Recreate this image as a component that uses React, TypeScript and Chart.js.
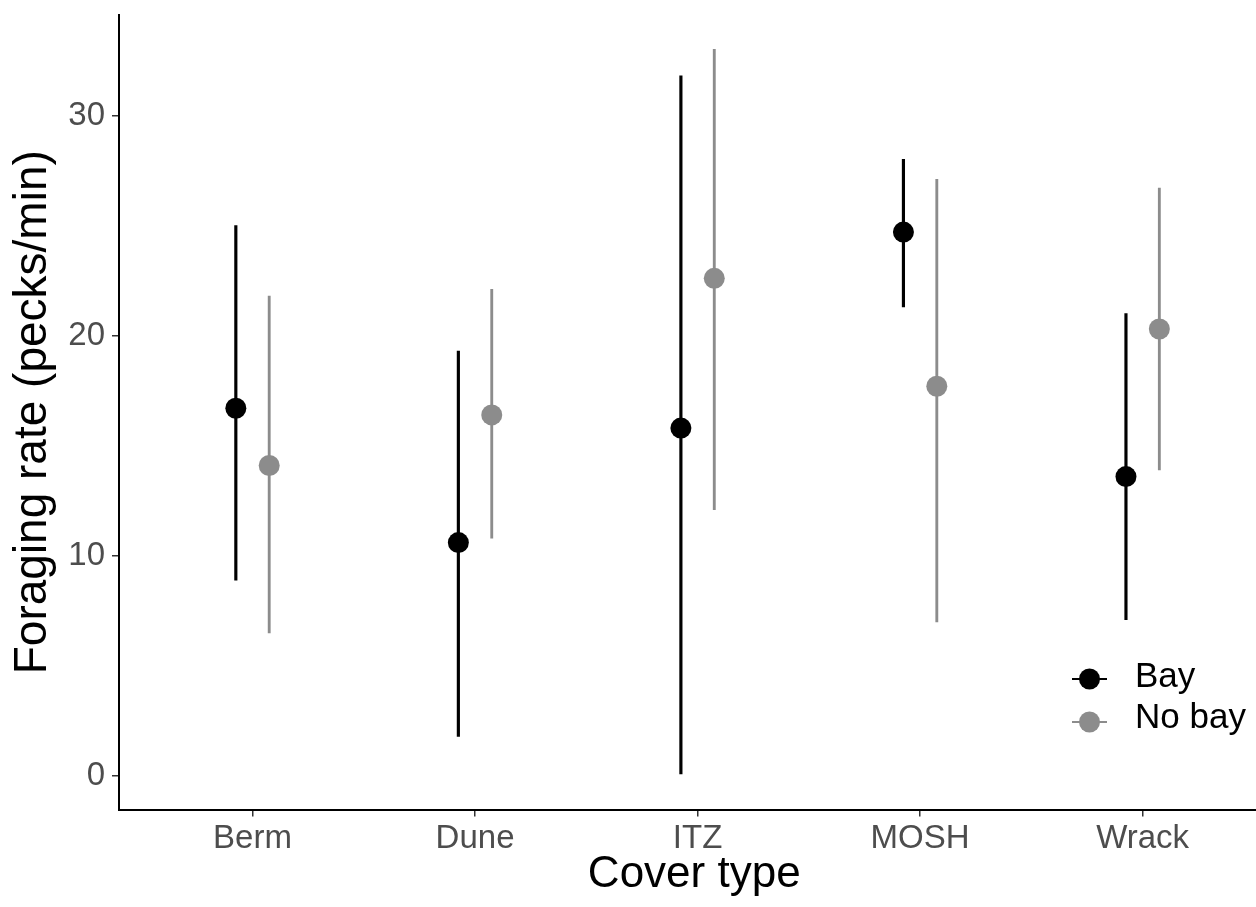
import React, { useEffect, useRef } from "react";
import { Chart, registerables } from "chart.js";

Chart.register(...registerables);

const categories = ["Berm", "Dune", "ITZ", "MOSH", "Wrack"];
const seriesNames = ["Bay", "No bay"];
const bayMean = [16.7, 10.6, 15.8, 24.7, 13.6];
const bayLow = [8.9, 1.8, 0.1, 21.3, 7.1];
const bayHigh = [25.0, 19.3, 31.8, 28.0, 21.0];
const noBayMean = [14.1, 16.4, 22.6, 17.7, 20.3];
const noBayLow = [6.5, 10.8, 12.1, 7.0, 13.9];
const noBayHigh = [21.8, 22.1, 33.0, 27.1, 26.7];
const yTicks = [0, 10, 20, 30];

const BAY_COLOR = "#000000";
const NOBAY_COLOR = "#8c8c8c";
const DODGE = 0.075;
const FONT = "'Liberation Sans', Arial, sans-serif";

const legendPlugin = {
  id: "insideLegend",
  afterDraw(chart: any) {
    const ctx = chart.ctx;
    const items = [
      { label: seriesNames[0], color: BAY_COLOR, y: 679, ty: 677 },
      { label: seriesNames[1], color: NOBAY_COLOR, y: 722, ty: 718 },
    ];
    ctx.save();
    items.forEach((it) => {
      ctx.strokeStyle = it.color;
      ctx.lineWidth = 2;
      ctx.beginPath();
      ctx.moveTo(1072, it.y);
      ctx.lineTo(1107, it.y);
      ctx.stroke();
      ctx.fillStyle = it.color;
      ctx.beginPath();
      ctx.arc(1089.5, it.y, 10.5, 0, Math.PI * 2);
      ctx.fill();
      ctx.fillStyle = "#000000";
      ctx.font = `35px ${FONT}`;
      ctx.textBaseline = "middle";
      ctx.textAlign = "left";
      ctx.fillText(it.label, 1135, it.ty);
    });
    ctx.restore();
  },
};

export default function App() {
  const ref = useRef<HTMLCanvasElement>(null);
  useEffect(() => {
    if (!ref.current) return;
    const xs = (i: number, d: number) => i + 1 + d;
    const chart = new Chart(ref.current, {
      type: "scatter",
      data: {
        datasets: [
          {
            type: "bar",
            label: "Bay range",
            data: categories.map((_, i) => ({ x: xs(i, -DODGE), y: [bayLow[i], bayHigh[i]] })) as any,
            backgroundColor: BAY_COLOR,
            borderWidth: 0,
            barThickness: 2.5,
            grouped: false,
            order: 4,
          } as any,
          {
            type: "scatter",
            label: seriesNames[0],
            data: categories.map((_, i) => ({ x: xs(i, -DODGE), y: bayMean[i] })),
            backgroundColor: BAY_COLOR,
            borderWidth: 0,
            pointRadius: 10.5,
            order: 3,
          },
          {
            type: "bar",
            label: "No bay range",
            data: categories.map((_, i) => ({ x: xs(i, DODGE), y: [noBayLow[i], noBayHigh[i]] })) as any,
            backgroundColor: NOBAY_COLOR,
            borderWidth: 0,
            barThickness: 2.2,
            grouped: false,
            order: 2,
          } as any,
          {
            type: "scatter",
            label: seriesNames[1],
            data: categories.map((_, i) => ({ x: xs(i, DODGE), y: noBayMean[i] })),
            backgroundColor: NOBAY_COLOR,
            borderWidth: 0,
            pointRadius: 10.5,
            order: 1,
          },
        ],
      },
      options: {
        responsive: false,
        animation: false,
        events: [],
        layout: { padding: { top: 15, right: 3, left: 0, bottom: 0 } },
        plugins: { legend: { display: false }, tooltip: { enabled: false } },
        scales: {
          x: {
            type: "linear",
            min: 0.4,
            max: 5.57,
            offset: false,
            afterFit: (s: any) => {
              s.height = 97.5;
              s.paddingLeft = 0;
              s.paddingRight = 0;
            },
            afterBuildTicks: (s: any) => { s.ticks = categories.map((_, i) => ({ value: i + 1 })); },
            ticks: {
              callback: (v: any) => categories[Math.round(Number(v)) - 1] ?? "",
              color: "#4d4d4d",
              font: { family: FONT, size: 33 },
              padding: 3,
              maxRotation: 0,
              autoSkip: false,
            },
            grid: { offset: false, drawOnChartArea: false, drawTicks: true, tickLength: 7, color: "#333333", lineWidth: 1.5 },
            border: { display: true, color: "#000000", width: 2 },
            title: {
              display: true,
              text: "Cover type",
              color: "#000000",
              font: { family: FONT, size: 44 },
              padding: { top: 0, bottom: 6 },
            },
          },
          y: {
            type: "linear",
            min: -1.52,
            max: 34.56,
            afterFit: (s: any) => {
              s.width = 119;
              s.paddingTop = 0;
              s.paddingBottom = 0;
            },
            afterBuildTicks: (s: any) => { s.ticks = yTicks.map((v) => ({ value: v })); },
            ticks: {
              color: "#4d4d4d",
              font: { family: FONT, size: 33 },
              padding: 7,
            },
            grid: { offset: false, drawOnChartArea: false, drawTicks: true, tickLength: 7, color: "#333333", lineWidth: 1.5 },
            border: { display: true, color: "#000000", width: 2 },
            title: {
              display: true,
              text: "Foraging rate (pecks/min)",
              color: "#000000",
              font: { family: FONT, size: 46 },
              padding: { top: 6, bottom: 0 },
            },
          },
        },
      },
      plugins: [legendPlugin],
    });
    return () => chart.destroy();
  }, []);
  return (
    <div style={{ position: "absolute", left: 0, top: 0, width: 1256, height: 907, overflow: "hidden", background: "#fff" }}>
      <canvas ref={ref} width={1280} height={907} style={{ display: "block" }} />
    </div>
  );
}
